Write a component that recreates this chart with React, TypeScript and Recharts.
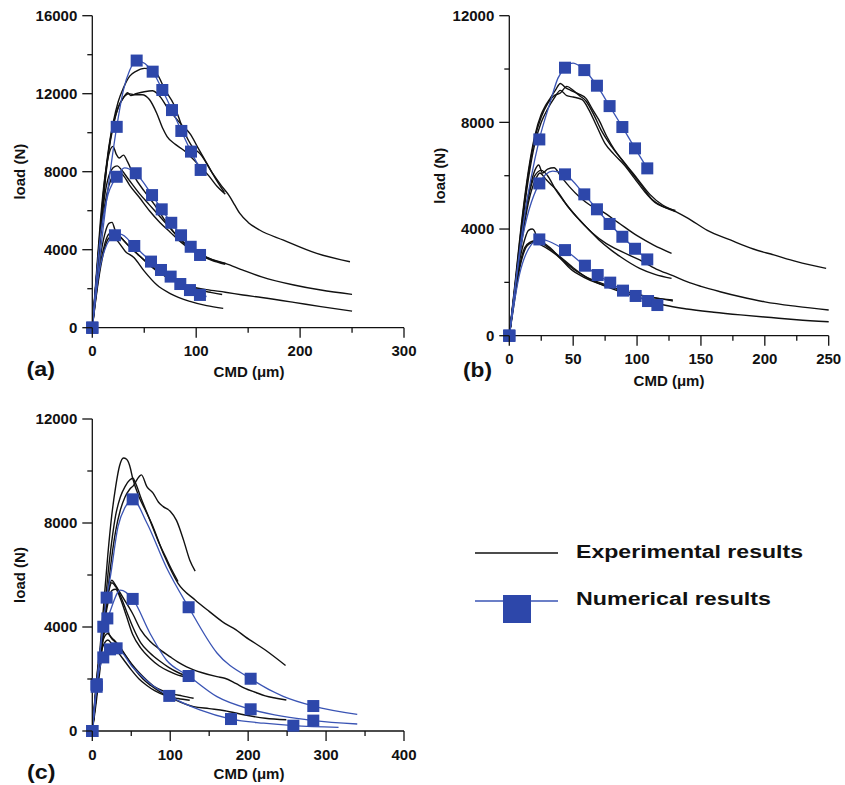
import React from 'react';
import { ComposedChart, Line, XAxis, YAxis } from 'recharts';

type Pt = [number, number];

const INK = '#111';
const BLUE = '#2d47aa';
const BLUE_LINE = '#3a54b4';
const FONT = '"Liberation Sans", Arial, Helvetica, sans-serif';

// ---------- panel (a) ----------
const cmdTicksA = [0, 50, 100, 150, 200, 250, 300];
const loadTicksA = [0, 2000, 4000, 6000, 8000, 10000, 12000, 14000, 16000];

// experimental curves, top group
const expA1: Pt[] = [[0, 0], [4, 2600], [8, 5300], [12, 7600], [16, 9300], [20, 10500], [25, 11600], [30, 12300], [36, 12900], [42, 13150], [50, 13300], [58, 13250], [63, 12950], [70, 12200], [78, 11500], [88, 10100], [96, 9300], [104, 8900], [116, 7900], [124, 7300], [132, 6750], [137, 6300], [142, 5860], [150, 5400], [161, 5010], [184, 4490], [216, 3810], [248, 3380]];
const expA2: Pt[] = [[0, 0], [4, 2500], [8, 5100], [12, 7400], [16, 9200], [20, 10400], [25, 11300], [30, 11800], [34, 12050], [37, 11900], [42, 12000], [50, 12100], [58, 12150], [66, 11800], [72, 11300], [78, 10900], [86, 10400], [94, 9950], [102, 9200], [110, 8450], [118, 7700], [127, 6950]];
const expA3: Pt[] = [[0, 0], [4, 2400], [8, 5000], [12, 7300], [16, 9100], [20, 10300], [25, 11300], [30, 11800], [35, 12000], [40, 11950], [48, 11950], [55, 11700], [62, 11000], [68, 10200], [72, 9800], [80, 9400], [88, 9100], [96, 8700], [104, 8250], [112, 7800], [120, 7250], [128, 6850]];
// experimental curves, middle group
const expA4: Pt[] = [[0, 0], [4, 2800], [8, 5600], [12, 7700], [16, 8900], [20, 9300], [23, 8900], [26, 8700], [30, 8850], [34, 8500], [40, 7800], [50, 7000], [60, 6300], [70, 5500], [80, 4800], [90, 4300], [100, 3900], [110, 3600], [120, 3400], [128, 3300]];
const expA5: Pt[] = [[0, 0], [4, 2600], [8, 5000], [12, 6800], [16, 7800], [20, 8200], [24, 8300], [28, 8100], [35, 7600], [45, 6900], [55, 6300], [65, 5700], [75, 5100], [85, 4500], [95, 4050], [105, 3750], [115, 3500], [128, 3300], [145, 2950], [163, 2610], [194, 2190], [220, 1930], [250, 1710]];
const expA6: Pt[] = [[0, 0], [4, 2300], [8, 4600], [12, 6300], [16, 7300], [20, 7800], [25, 8000], [30, 7800], [36, 7300], [45, 6700], [55, 6000], [65, 5400], [75, 4900], [85, 4400], [95, 4000], [105, 3700], [115, 3450], [128, 3250]];
// experimental curves, low group
const expA7: Pt[] = [[0, 0], [4, 2000], [8, 3700], [12, 4800], [16, 5350], [19, 5400], [22, 5000], [28, 4600], [35, 4200], [45, 3700], [55, 3200], [65, 2800], [75, 2500], [85, 2250], [95, 2050], [105, 1900], [115, 1800], [125, 1700]];
const expA8: Pt[] = [[0, 0], [4, 1800], [8, 3300], [12, 4300], [16, 4800], [20, 4900], [26, 4700], [35, 4200], [45, 3700], [55, 3250], [65, 2850], [75, 2500], [85, 2250], [95, 2100], [110, 1950], [128, 1820], [145, 1680], [163, 1550], [194, 1300], [220, 1080], [250, 850]];
const expA9: Pt[] = [[0, 0], [4, 1700], [8, 3100], [12, 4100], [16, 4600], [20, 4700], [25, 4400], [32, 3900], [40, 3600], [50, 2900], [62, 2200], [75, 1750], [94, 1350], [110, 1130], [126, 990]];

// numerical results: computed points (squares) and extra points on the fitted curve
const numA1: Pt[] = [[0, 0], [23.5, 10300], [42.7, 13700], [58.1, 13130], [67.4, 12190], [76.7, 11160], [85.7, 10090], [95, 9030], [104.3, 8090]];
const fitA1: Pt[] = [[12, 5800], [30, 12200], [36, 13200]];
const numA2: Pt[] = [[0, 0], [23.5, 7740], [41.8, 7920], [57.5, 6800], [66.8, 6070], [76, 5380], [85.4, 4740], [94.7, 4150], [103.7, 3730]];
const fitA2: Pt[] = [[8, 4800], [14, 6600], [31, 8200]];
const numA3: Pt[] = [[0, 0], [21.8, 4740], [40.4, 4190], [56.5, 3390], [66.1, 2960], [75.4, 2620], [84.7, 2240], [94, 1930], [103.6, 1680]];
const fitA3: Pt[] = [[6, 2700], [12, 4000], [27, 4800], [110, 1600]];

// ---------- panel (b) ----------
const cmdTicksB = [0, 25, 50, 75, 100, 125, 150, 175, 200, 225, 250];
const loadTicksB = [0, 2000, 4000, 6000, 8000, 10000, 12000];

const expB1: Pt[] = [[0, 0], [5, 2200], [10, 4400], [15, 6200], [20, 7500], [25, 8300], [28, 8600], [32, 8900], [36, 9200], [40, 9460], [44, 9300], [48, 9200], [55, 9050], [60, 8900], [65, 8500], [70, 8100], [76, 7500], [82, 7000], [90, 6500], [100, 5900], [110, 5300], [120, 4900], [128, 4710], [140, 4400], [155, 3950], [173, 3590], [191, 3250], [207, 3030], [225, 2780], [248, 2525]];
const expB2: Pt[] = [[0, 0], [5, 2100], [10, 4300], [15, 6100], [20, 7400], [25, 8200], [30, 8700], [35, 9000], [40, 9100], [45, 9350], [50, 9200], [55, 9000], [60, 8800], [66, 8300], [72, 7700], [80, 7100], [88, 6600], [96, 6100], [104, 5600], [112, 5100], [120, 4850], [130, 4700]];
const expB3: Pt[] = [[0, 0], [5, 2000], [10, 4100], [15, 5900], [20, 7200], [25, 8000], [30, 8500], [35, 8900], [40, 9200], [45, 9000], [50, 8950], [57, 8850], [62, 8500], [68, 7900], [75, 7200], [82, 6800], [90, 6400], [98, 5900], [106, 5400], [114, 5000], [122, 4800], [130, 4650]];
const expB4: Pt[] = [[0, 0], [5, 2000], [10, 3900], [15, 5300], [20, 6200], [23, 6400], [26, 6100], [30, 6250], [35, 6300], [40, 6000], [47, 5590], [55, 5200], [63, 4900], [73, 4650], [85, 4250], [100, 3750], [113, 3400], [127, 3090]];
const expB5: Pt[] = [[0, 0], [5, 1900], [10, 3800], [15, 5200], [20, 6000], [25, 6200], [30, 6000], [36, 5500], [42, 5090], [50, 4600], [60, 4090], [70, 3600], [80, 3200], [87, 2960], [102, 2525], [114, 2300], [127, 2150]];
const expB6: Pt[] = [[0, 0], [5, 1800], [10, 3600], [15, 5000], [20, 5800], [24, 6100], [28, 5900], [32, 5700], [37, 5460], [45, 4900], [55, 4340], [65, 3850], [76, 3450], [88, 3150], [102, 2840], [115, 2500], [128, 2250], [139, 2025], [150, 1850], [165, 1650], [181, 1460], [200, 1270], [225, 1100], [250, 965]];
const expB7: Pt[] = [[0, 0], [4, 1500], [8, 2800], [12, 3600], [15, 3950], [18, 4000], [20, 3900], [22, 3600], [26, 3500], [32, 3300], [40, 2900], [50, 2500], [60, 2210], [73, 1950], [87, 1710], [100, 1550], [113, 1420], [128, 1340]];
const expB8: Pt[] = [[0, 0], [4, 1400], [8, 2600], [12, 3300], [16, 3500], [20, 3550], [26, 3450], [32, 3250], [40, 2950], [50, 2550], [60, 2200], [73, 1900], [87, 1650], [100, 1450], [121, 1150], [139, 1000], [160, 880], [181, 780], [205, 680], [225, 600], [250, 525]];
const expB9: Pt[] = [[0, 0], [4, 1300], [8, 2500], [12, 3200], [16, 3450], [20, 3500], [25, 3400], [32, 3200], [40, 2900], [48, 2500], [58, 2200], [70, 1950], [85, 1750], [100, 1550], [115, 1420], [128, 1300]];

const numB1: Pt[] = [[0, 0], [23.5, 7360], [43.6, 10050], [58.7, 9960], [68.6, 9375], [78.5, 8610], [88.5, 7825], [98.4, 7025], [108, 6275]];
const fitB1: Pt[] = [[11, 4200], [32, 8750], [38, 9650], [50, 10220]];
const numB2: Pt[] = [[0, 0], [23.5, 5710], [43.6, 6050], [58.7, 5300], [68.6, 4740], [78.5, 4190], [88.5, 3710], [98.4, 3260], [108, 2860]];
const fitB2: Pt[] = [[9, 3300], [34, 6170]];
const numB3: Pt[] = [[0, 0], [23.5, 3610], [43.6, 3210], [59.2, 2625], [69.2, 2275], [79, 1990], [89, 1690], [98.9, 1490], [108.6, 1300], [115.9, 1150]];
const fitB3: Pt[] = [[8, 2300], [15, 3250]];

// ---------- panel (c) ----------
const cmdTicksC = [0, 50, 100, 150, 200, 250, 300, 350, 400];
const loadTicksC = [0, 2000, 4000, 6000, 8000, 10000, 12000];

const expC1: Pt[] = [[0, 0], [5, 1500], [10, 3200], [15, 5000], [20, 6800], [25, 8300], [30, 9400], [35, 10200], [40, 10500], [44, 10450], [48, 10200], [52, 9700], [60, 9000], [68, 8500], [76, 7990], [93, 6700], [110, 5680], [132, 5040], [150, 4600], [170, 4140], [184, 3900], [196, 3630], [222, 3115], [248, 2520]];
const expC2: Pt[] = [[0, 0], [5, 1300], [10, 2800], [15, 4400], [20, 6000], [25, 7300], [30, 8300], [36, 9000], [42, 9400], [48, 9650], [52, 9720], [56, 9500], [62, 9000], [70, 8400], [78, 7800], [86, 7200], [94, 6700], [102, 6200], [110, 5750]];
const expC3: Pt[] = [[0, 0], [5, 1100], [10, 2400], [15, 3900], [20, 5400], [25, 6700], [30, 7700], [36, 8500], [42, 9000], [48, 9300], [53, 9450], [58, 9700], [63, 9850], [70, 9400], [78, 9150], [85, 8800], [91, 8630], [100, 8450], [108, 8100], [117, 7350], [125, 6580], [132, 6150]];
const expC4: Pt[] = [[0, 0], [5, 1500], [10, 3000], [15, 4300], [20, 5300], [25, 5800], [28, 5700], [33, 5450], [40, 5100], [52, 4500], [62, 3900], [74, 3450], [86, 3150], [100, 2850], [110, 2650], [121, 2470], [140, 2250], [160, 2090], [170, 2030], [184, 1830], [196, 1640], [210, 1480], [222, 1350], [236, 1260], [249, 1190]];
const expC5: Pt[] = [[0, 0], [5, 1400], [10, 2900], [15, 4200], [20, 5200], [25, 5700], [30, 5550], [36, 5200], [44, 4600], [52, 4000], [62, 3400], [74, 3000], [86, 2700], [98, 2450], [110, 2250], [122, 2100]];
const expC6: Pt[] = [[0, 0], [5, 1300], [10, 2700], [15, 4000], [20, 4900], [25, 5400], [30, 5450], [36, 5100], [44, 4400], [52, 3700], [62, 3200], [74, 2800], [86, 2500], [98, 2300], [110, 2150], [120, 2080]];
const expC7: Pt[] = [[0, 0], [4, 1500], [8, 2700], [12, 3400], [16, 3800], [19, 3900], [22, 3700], [28, 3500], [35, 3250], [45, 2800], [55, 2350], [65, 2000], [75, 1750], [90, 1450], [105, 1220], [130, 940], [150, 860], [170, 780], [196, 615], [222, 490], [249, 430]];
const expC8: Pt[] = [[0, 0], [4, 1400], [8, 2600], [12, 3300], [16, 3650], [20, 3750], [25, 3550], [30, 3400], [40, 3000], [50, 2600], [60, 2250], [70, 1950], [80, 1700], [90, 1550], [100, 1450], [115, 1350], [130, 1260]];
const expC9: Pt[] = [[0, 0], [4, 1300], [8, 2400], [12, 3100], [16, 3400], [20, 3500], [25, 3350], [30, 3150], [40, 2750], [50, 2350], [60, 2000], [70, 1750], [80, 1550], [95, 1350], [110, 1250], [125, 1180]];

const numC1: Pt[] = [[0, 0], [5.6, 1800], [18.4, 5130], [51.8, 8910], [123.6, 4760], [203.2, 2010], [283.6, 960]];
const fitC1: Pt[] = [[23, 5900], [33, 7860], [42, 8600], [70, 8000], [95, 6300], [160, 3000], [245, 1330], [340, 640]];
const numC2: Pt[] = [[0, 0], [5.6, 1700], [14.1, 4010], [19.3, 4330], [51.8, 5080], [123.6, 2115], [203.2, 835], [283.6, 400]];
const fitC2: Pt[] = [[36, 5420], [74, 3760], [95, 2730], [160, 1320], [245, 560], [340, 270]];
const numC3: Pt[] = [[0, 0], [5.6, 1770], [14.1, 2830], [22.7, 3140], [31.2, 3180], [98.8, 1350], [178, 460], [258, 205]];
const fitC3: Pt[] = [[52, 2450], [74, 1830], [138, 810], [220, 300], [316, 140]];

// ---------- helpers ----------
type Row = { cmd: number; load: number; mark: boolean };

function toRows(pts: Pt[], mark = false): Row[] {
  return pts.map(([cmd, load]) => ({ cmd, load, mark }));
}

function numRows(marks: Pt[], fit: Pt[]): Row[] {
  return [...toRows(marks, true), ...toRows(fit)].sort((a, b) => a.cmd - b.cmd);
}

const Square = (p: any) => {
  if (!p.payload?.mark) return <g key={`n${p.index}`} />;
  return <rect key={`s${p.index}`} x={p.cx - 6} y={p.cy - 6} width={12} height={12} fill={BLUE} />;
};

type PanelProps = {
  left: number;
  top: number;
  width: number;
  height: number;
  margin: { top: number; right: number; bottom: number; left: number };
  xMax: number;
  xTicks: number[];
  xMajor: number;
  yMax: number;
  yTicks: number[];
  exp: Pt[][];
  num: Row[][];
};

function Panel({ left, top, width, height, margin, xMax, xTicks, xMajor, yMax, yTicks, exp, num }: PanelProps) {
  const axisX = margin.left + 80;
  const axisY = height - margin.bottom - 30;

  const xTick = (p: any) => {
    const v = p.payload.value;
    const big = v % xMajor === 0;
    return (
      <g key={`x${v}`}>
        <line x1={p.x} x2={p.x} y1={axisY} y2={axisY + (big ? 10 : 5)} stroke={INK} strokeWidth={1.3} />
        {big && (
          <text x={p.x} y={axisY + 28.5} textAnchor="middle" fontSize={15} fontWeight="bold" fontFamily={FONT} fill={INK}>
            {v}
          </text>
        )}
      </g>
    );
  };

  const yTick = (p: any) => {
    const v = p.payload.value;
    const big = v % 4000 === 0;
    return (
      <g key={`y${v}`}>
        <line x1={axisX - (big ? 10 : 5)} x2={axisX} y1={p.y} y2={p.y} stroke={INK} strokeWidth={1.3} />
        {big && (
          <text x={axisX - 15} y={p.y + 5.4} textAnchor="end" fontSize={15} fontWeight="bold" fontFamily={FONT} fill={INK}>
            {v}
          </text>
        )}
      </g>
    );
  };

  return (
    <div style={{ position: 'absolute', left, top }}>
      <ComposedChart width={width} height={height} margin={margin}>
        <XAxis
          dataKey="cmd" type="number" domain={[0, xMax]} ticks={xTicks} interval={0}
          height={30} tickLine={false} axisLine={{ stroke: INK, strokeWidth: 1.3 }} tick={xTick}
        />
        <YAxis
          type="number" domain={[0, yMax]} ticks={yTicks} interval={0}
          width={80} tickLine={false} axisLine={{ stroke: INK, strokeWidth: 1.3 }} tick={yTick}
        />
        {exp.map((pts, i) => (
          <Line
            key={`e${i}`} data={toRows(pts)} dataKey="load" type="monotone"
            stroke={INK} strokeWidth={1.4} dot={false} activeDot={false} isAnimationActive={false}
          />
        ))}
        {num.map((rows, i) => (
          <Line
            key={`m${i}`} data={rows} dataKey="load" type="monotone"
            stroke={BLUE_LINE} strokeWidth={1.3} dot={Square} activeDot={false} isAnimationActive={false}
          />
        ))}
      </ComposedChart>
    </div>
  );
}

const txt = { fontFamily: FONT, fontWeight: 'bold' as const, fill: INK };

export default function App() {
  return (
    <div style={{ position: 'absolute', left: 0, top: 0, width: 845, height: 785, background: '#fff' }}>
      <Panel
        left={0} top={0} width={420} height={390}
        margin={{ top: 15.7, right: 16, bottom: 32.3, left: 12.3 }}
        xMax={300} xTicks={cmdTicksA} xMajor={100} yMax={16000} yTicks={loadTicksA}
        exp={[expA1, expA2, expA3, expA4, expA5, expA6, expA7, expA8, expA9]}
        num={[numRows(numA1, fitA1), numRows(numA2, fitA2), numRows(numA3, fitA3)]}
      />
      <Panel
        left={420} top={0} width={425} height={390}
        margin={{ top: 15.7, right: 16.3, bottom: 24.3, left: 9.3 }}
        xMax={250} xTicks={cmdTicksB} xMajor={50} yMax={12000} yTicks={loadTicksB}
        exp={[expB1, expB2, expB3, expB4, expB5, expB6, expB7, expB8, expB9]}
        num={[numRows(numB1, fitB1), numRows(numB2, fitB2), numRows(numB3, fitB3)]}
      />
      <Panel
        left={0} top={400} width={420} height={385}
        margin={{ top: 19, right: 16, bottom: 24, left: 12.3 }}
        xMax={400} xTicks={cmdTicksC} xMajor={100} yMax={12000} yTicks={loadTicksC}
        exp={[expC1, expC2, expC3, expC4, expC5, expC6, expC7, expC8, expC9]}
        num={[numRows(numC1, fitC1), numRows(numC2, fitC2), numRows(numC3, fitC3)]}
      />

      <svg width={845} height={785} style={{ position: 'absolute', left: 0, top: 0, pointerEvents: 'none' }}>
        {/* axis titles */}
        <text x={19.5} y={171.7} dy={5.4} transform="rotate(-90 19.5 171.7)" textAnchor="middle" fontSize={15} {...txt}>load (N)</text>
        <text x={439.3} y={175.7} dy={5.4} transform="rotate(-90 439.3 175.7)" textAnchor="middle" fontSize={15} {...txt}>load (N)</text>
        <text x={19.5} y={575} dy={5.4} transform="rotate(-90 19.5 575)" textAnchor="middle" fontSize={15} {...txt}>load (N)</text>
        <text x={249} y={377} textAnchor="middle" fontSize={15} {...txt}>CMD (μm)</text>
        <text x={669} y={385.5} textAnchor="middle" fontSize={15} {...txt}>CMD (μm)</text>
        <text x={249} y={779} textAnchor="middle" fontSize={15} {...txt}>CMD (μm)</text>

        {/* panel letters */}
        <text x={26.5} y={376} fontSize={20} textLength={28.5} lengthAdjust="spacingAndGlyphs" {...txt}>(a)</text>
        <text x={463} y={377} fontSize={20} textLength={29} lengthAdjust="spacingAndGlyphs" {...txt}>(b)</text>
        <text x={27} y={779} fontSize={20} textLength={28.5} lengthAdjust="spacingAndGlyphs" {...txt}>(c)</text>

        {/* legend */}
        <line x1={475} x2={558} y1={553} y2={553} stroke={INK} strokeWidth={1.6} />
        <text x={576} y={558} fontSize={18} textLength={227} lengthAdjust="spacingAndGlyphs" {...txt}>Experimental results</text>
        <line x1={475} x2={558} y1={601} y2={601} stroke={BLUE_LINE} strokeWidth={1.6} />
        <rect x={503} y={595} width={28} height={28} fill={BLUE} />
        <text x={576} y={605} fontSize={18} textLength={195} lengthAdjust="spacingAndGlyphs" {...txt}>Numerical results</text>
      </svg>
    </div>
  );
}
